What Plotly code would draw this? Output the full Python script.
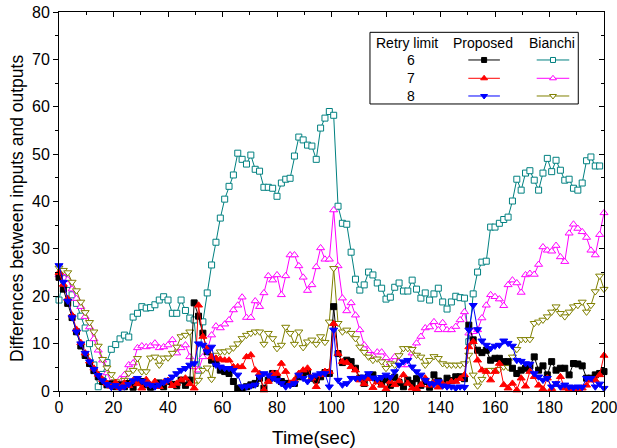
import plotly.graph_objects as go

# ---------------- data ----------------
time = [round(1.6 * i, 1) for i in range(126)]

proposed_6 = [24, 21.5, 18.5, 15.5, 12.5, 9.5, 7.5, 5.8, 4.3, 3,
              2, 1.3, 1.5, 0.9, 1.3, 0.9, 1.6, 0.8, 1.8, 2,
              1.3, 0.8, 1.2, 1.7, 0.9, 2, 1.4, 1.1, 2.3, 1.2,
              2.3, 18.6, 15.8, 12.2, 8.3, 6.5, 5.8, 4.4, 4.1, 3.7,
              2, 0.6, 0.6, 0.9, 1.3, 1.6, 2.7, 0.6, 2.3, 3.7,
              2.7, 2, 1.6, 1.6, 1.6, 3, 3.7, 4.1, 2.7, 2.3,
              3, 3.9, 3.7, 17.8, 7.9, 6, 6.5, 6.2, 4.8, 2.7,
              1.6, 3, 3.4, 2.2, 1.5, 2.4, 1.2, 2.9, 1.8, 0.9,
              2.3, 1.6, 2.6, 1.2, 2, 0.8, 3.4, 2.1, 1.4, 2.7,
              2.2, 3, 3, 2.6, 13.9, 10.8, 8.6, 8.1, 8.6, 6.5,
              6.9, 6.9, 6.2, 6.2, 4.8, 3.7, 4.4, 4.8, 5.3, 7.2,
              4.4, 5.3, 3.4, 6.2, 4.4, 4.8, 4.8, 3.4, 5.8, 5.7,
              5.3, 2.7, 2.7, 3.4, 3.7, 4.1]

proposed_7 = [25, 22.5, 19.5, 16, 13, 10.2, 8, 6.3, 4.8, 3.5,
              2.4, 1.6, 1, 1.8, 0.7, 1.7, 1.1, 2.2, 1.5, 0.6,
              2.4, 1.3, 2, 0.9, 1.8, 2.2, 1.1, 1.6, 2.3, 2.7,
              1.5, 0.6, 18.1, 11.5, 9, 7.2, 6.9, 6.7, 6.5, 6.5,
              5.1, 5.1, 5.1, 7.2, 7.6, 4.4, 3.7, 0.2, 2, 3.7,
              3.7, 5.8, 4.1, 1.6, 2.3, 3.7, 4.4, 4.8, 2.7, 0.9,
              3.4, 4.1, 4.1, 14.2, 7.9, 6.2, 6, 5.1, 4.4, 2.3,
              1.5, 2.6, 0.7, 1.9, 1.2, 0.4, 2, 1.3, 2.1, 3.4,
              1.6, 0.6, 0.5, 1.3, 2.7, 1.2, 1.8, 0.8, 1.5, 1.3,
              2, 2, 2.6, 3.4, 9.3, 10.4, 6.5, 4.4, 4.1, 2.3,
              4.1, 5.8, 1.3, 0.6, 1.6, 0.2, 2.7, 1, 4.1, 3,
              1.2, 0.4, 2.7, 0.5, 1.4, 3, 0.6, 0.3, 0.5, 0.3,
              0.6, 1.2, 2.3, 2.3, 3.4, 7.5]

proposed_8 = [26.5, 23, 19, 15.5, 12.5, 10, 8, 6.2, 4.6, 3.3,
              2.2, 1.4, 0.8, 1.2, 0.6, 0.9, 1.4, 2.2, 2.7, 2.1,
              1.5, 1.2, 0.9, 1.3, 1.8, 2.3, 3, 3.7, 4.4, 4.8,
              5.5, 5.8, 10, 9.7, 8.3, 9.3, 5.5, 5.1, 4.8, 4.8,
              4.4, 3.4, 0.9, 0.9, 1.1, 1.3, 3, 3.7, 3.4, 2.7,
              2.3, 1.6, 0.9, 1.2, 1.6, 3.4, 2.7, 2, 3, 3.4,
              3.7, 3.7, 0.9, 12.9, 2.3, 1.3, 1.6, 2.7, 2.7, 2.7,
              3, 3.7, 2.8, 2.5, 2.9, 3.4, 2.9, 4.1, 5.5, 6.2,
              6.5, 5.1, 4.1, 3.4, 2.3, 1.6, 1.4, 2, 1.1, 0.9,
              0.9, 0.6, 0.9, 0.8, 12.9, 18.1, 13, 10.6, 9.7, 9,
              9.5, 9.7, 10.6, 10.1, 9.5, 6.5, 6.3, 5.8, 5.7, 3.7,
              3, 2.3, 2.7, 0.9, 1.6, 0.9, 1.3, 0.9, 0.7, 0.9,
              0.8, 2.7, 2.7, 0.9, 1.5, 0.6]

bianchi_6 = [19.2, 23.8, 22.5, 20.3, 18.5, 15.8, 13.3, 10, 5.5, 0.9,
             3.5, 6, 8.8, 9.8, 11, 11.8, 11.4, 15.6, 16.4, 17.8,
             17.5, 17.6, 18.2, 19.2, 19.9, 19.2, 16.4, 16.4, 19.2, 17,
             15.4, 15, 4.4, 14.6, 20.7, 26.6, 31.4, 36.5, 40.5, 43.2,
             45.6, 50.2, 48.9, 47.9, 49.8, 46.8, 46.4, 43, 43, 42.8,
             41.1, 43.9, 44.7, 44.9, 49.6, 53.6, 53, 51.9, 51.7, 48.9,
             55.5, 57.6, 59, 58.2, 39, 35.4, 35.2, 29.3,
             23.6, 21.3, 22.4, 25.1, 24.5, 22.8, 21.7, 19.4, 19.8, 21.9,
             22.8, 21.1, 21.1, 23.4, 21.5, 19.6, 20.7, 19.2, 20.5, 21.7,
             18.8, 17.3, 18.8, 20,
             19.7, 19.6, 10.4, 20.5, 25.1, 27.2, 27.4, 34.6, 34.6, 35.4,
             36.2, 36.7, 40.1, 44.7, 42.4, 46, 46.5, 44.5, 42.4, 46,
             49.1, 46.3, 48.7, 46.6, 44.5, 44.7, 42.8, 42.4, 43.9, 48.6,
             49.4, 47.5, 47.5]

bianchi_7 = [24.5, 25, 23.5, 21.5, 19.5, 17.8, 15.7, 13.5, 11, 8.6,
             6.5, 3.8, 1.7, 0.9, 2.5, 3.4, 5.5, 5.9, 9.1, 9.5,
             9.3, 9.5, 10.1, 9.1, 9.3, 9.7, 10.8, 8, 9.1, 9.7,
             7.2, 5.1, 4.4, 7.2, 8.6, 11.8, 13.7, 13.3, 14.1, 15,
             17.1, 18.1, 19.8, 15.5, 15.5, 19, 17.8, 20.7, 24.3, 23.4,
             24.5, 20.3, 24.3, 28.7, 28.7, 26.4, 24, 21.2, 22.4, 26.2,
             30.2, 27.8, 27.8, 38.2, 26.4, 19.6, 16.9, 18.6, 16, 12.9,
             9.7, 8.5, 7.5, 8.2, 8.2, 7, 5.9, 7.2, 6.1, 5.5,
             5.5, 8, 10.1, 11.5, 13.3, 13.5, 14.6, 12.9, 14.4, 12.9,
             12.9, 13.6, 15, 16.7, 12.2, 12.5, 12.9, 15.4, 18.1, 20.3,
             19.9, 19.4, 18, 22.4, 23.4, 22.8, 20.8, 24.5, 24.8, 24.6,
             26.7, 30.4, 29.7, 29.5, 30.7, 28.3, 27.3, 33.3, 35.2, 34.3,
             33.6, 32.4, 29.7, 28.7, 33, 37.6]

bianchi_8 = [26, 25.5, 25, 23, 21.2, 18.8, 16.6, 14.5, 12.5, 9.5,
             6.7, 4.9, 3.5, 2, 0.9, 2.3, 3.8, 4.4, 6.9, 4.1,
             4.1, 7, 7.2, 5.5, 7, 7, 8, 9.3, 11.5, 11.8,
             12.5, 1.3, 2.3, 4.4, 4.9, 2.5, 7.6, 8.3, 8.3, 8.5,
             9.1, 10, 11.1, 11.8, 12.2, 12.5, 12.5, 9.9, 12.2, 11.1,
             9, 9.7, 13.5, 12.2, 9.9, 12.5, 9.2, 10.4, 10.8, 9.9,
             11.5, 10.3, 14.6, 25.9, 14.3, 12.5, 12.9, 12.2, 11.1, 9.3,
             8.2, 7.2, 6.5, 6.8, 6.2, 4.8, 5.8, 5.5, 7.5, 9,
             9, 8.8, 7.6, 7.2, 5.5, 6.5, 7.3, 6.9, 5.8, 5.5,
             5.5, 5.5, 5.5, 5.8, 7.6, 3.4, 1.1, 2.5, 4.4, 4.4,
             4.4, 4.6, 5.1, 5, 7.2, 8.8, 10.9, 10.9, 10.9, 14.3,
             14.6, 15, 15.7, 16.7, 17.8, 16.4, 15.7, 16.7, 17.8, 18.1,
             18.8, 16.7, 18.1, 21, 24.3, 21.5]

retry_limits = ["6", "7", "8"]
column_titles = ["Retry limit", "Proposed", "Bianchi"]
x_title = "Time(sec)"
y_title = "Differences between inputs and outputs"

# ---------------- styles ----------------
FONT = "Liberation Sans, Arial, sans-serif"
styles = {
    "P6": dict(color="#000000", symbol="square", filled=True, size=6),
    "P7": dict(color="#FF0000", symbol="triangle-up", filled=True, size=7),
    "P8": dict(color="#0000FF", symbol="triangle-down", filled=True, size=7),
    "B6": dict(color="#008080", symbol="square", filled=False, size=6),
    "B7": dict(color="#FF00FF", symbol="triangle-up", filled=False, size=7),
    "B8": dict(color="#808000", symbol="triangle-down", filled=False, size=7),
}

def marker_of(st):
    return dict(symbol=st["symbol"], size=st["size"],
                color=st["color"] if st["filled"] else "white",
                line=dict(color=st["color"], width=1))

fig = go.Figure()

series = [("B6", bianchi_6), ("B7", bianchi_7), ("B8", bianchi_8),
          ("P6", proposed_6), ("P7", proposed_7), ("P8", proposed_8)]
for key, ys in series:
    st = styles[key]
    fig.add_trace(go.Scatter(x=time[:len(ys)], y=ys, mode="lines+markers",
                             line=dict(color=st["color"], width=1),
                             marker=marker_of(st), cliponaxis=False,
                             showlegend=False, hoverinfo="x+y"))

# mirror axes (top/right, inward ticks)
fig.add_trace(go.Scatter(x=[None], y=[None], xaxis="x2", yaxis="y2",
                         showlegend=False, hoverinfo="skip"))

# ---------------- legend table ----------------
bx0, bx1, by0, by1 = 0.5706, 0.9528, 0.7573, 0.9464
hdr_y = 0.9174
row_y = [0.8734, 0.8251, 0.7784]
col_x = [0.638, 0.7774, 0.904]
samp = {"P": (0.751, 0.809), "B": (0.8765, 0.9363)}

fig.add_shape(type="rect", xref="paper", yref="paper", x0=bx0, x1=bx1,
              y0=by0, y1=by1, line=dict(color="black", width=1),
              fillcolor="white", layer="below")
for cx, txt in zip(col_x, column_titles):
    fig.add_annotation(x=cx, y=hdr_y, xref="paper", yref="paper", text=txt,
                       xanchor="center", yanchor="middle",
                       showarrow=False, font=dict(family=FONT, size=14, color="black"))
for ry, lim in zip(row_y, retry_limits):
    fig.add_annotation(x=0.6453, y=ry, xref="paper", yref="paper", text=lim,
                       xanchor="center", yanchor="middle",
                       showarrow=False, font=dict(family=FONT, size=14, color="black"))
    for grp in ("P", "B"):
        st = styles[grp + lim]
        sx0, sx1 = samp[grp]
        fig.add_trace(go.Scatter(x=[sx0, sx1], y=[ry, ry], xaxis="x3", yaxis="y3",
                                 mode="lines", line=dict(color=st["color"], width=1),
                                 showlegend=False, hoverinfo="skip"))
        m = marker_of(st)
        m["size"] = st["size"] - 1
        fig.add_trace(go.Scatter(x=[(sx0 + sx1) / 2], y=[ry], xaxis="x3", yaxis="y3",
                                 mode="markers", marker=m, cliponaxis=False,
                                 showlegend=False, hoverinfo="skip"))

# axis titles as annotations (positioned like the reference)
fig.add_annotation(x=0.468, y=(391 - 437) / 379, xref="paper", yref="paper",
                   text=x_title, showarrow=False, xanchor="center", yanchor="middle",
                   font=dict(family=FONT, size=19, color="black"))
fig.add_annotation(x=-0.0771, y=0.483, xref="paper", yref="paper", text=y_title,
                   textangle=-90, showarrow=False, xanchor="center", yanchor="middle",
                   font=dict(family=FONT, size=17.5, color="black"))

axis_common = dict(showgrid=False, zeroline=False, showline=True, automargin=False,
                   linecolor="black", linewidth=1, tickcolor="black",
                   ticklabeloverflow="allow")

fig.update_layout(
    width=617, height=448,
    margin=dict(l=59, r=13, t=12, b=57),
    paper_bgcolor="white", plot_bgcolor="white",
    font=dict(family=FONT, color="black"),
    xaxis=dict(range=[0, 200], dtick=20, tick0=0, ticks="outside", ticklen=5,
               minor=dict(dtick=10, ticks="outside", ticklen=3, tickcolor="black"),
               tickfont=dict(size=16), ticklabelstandoff=-3,
               **axis_common),
    yaxis=dict(range=[0, 80], dtick=10, tick0=0, ticks="outside", ticklen=5,
               minor=dict(dtick=5, ticks="outside", ticklen=3, tickcolor="black"),
               tickfont=dict(size=16),
               **axis_common),
    xaxis2=dict(overlaying="x", side="top", range=[0, 200], dtick=20, tick0=0,
                ticks="inside", ticklen=5,
                minor=dict(dtick=10, ticks="inside", ticklen=3, tickcolor="black"),
                showticklabels=False, **axis_common),
    yaxis2=dict(overlaying="y", side="right", range=[0, 80], dtick=10, tick0=0,
                ticks="inside", ticklen=5,
                minor=dict(dtick=5, ticks="inside", ticklen=3, tickcolor="black"),
                showticklabels=False, **axis_common),
    xaxis3=dict(overlaying="x", range=[0, 1], visible=False),
    yaxis3=dict(overlaying="y", range=[0, 1], visible=False),
)

# remove the browser's default 8px page margin so the figure sits at (0, 0)
fig.write_html("out.html", config={"displayModeBar": False},
               post_script="document.body.style.margin='0';"
                           "document.body.style.overflow='hidden';")
